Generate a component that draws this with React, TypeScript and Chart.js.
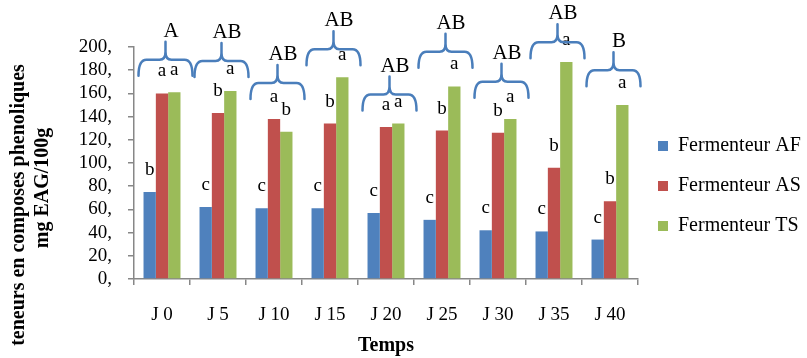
import React, { useEffect, useRef } from 'react';
import { Chart, registerables } from 'chart.js';

Chart.register(...registerables);

const categories = ['J 0', 'J 5', 'J 10', 'J 15', 'J 20', 'J 25', 'J 30', 'J 35', 'J 40'];
const seriesNames = ['Fermenteur AF', 'Fermenteur AS', 'Fermenteur TS'];
const valuesAF = [75, 62, 61, 61, 57, 51, 42, 41, 34];
const valuesAS = [160, 143, 138, 134, 131, 128, 126, 96, 67];
const valuesTS = [161, 162, 127, 174, 134, 166, 138, 187, 150];
const lettersAF = ['b', 'c', 'c', 'c', 'c', 'c', 'c', 'c', 'c'];
const lettersAS = ['a', 'b', 'a', 'b', 'a', 'b', 'b', 'b', 'b'];
const lettersTS = ['a', 'a', 'b', 'a', 'a', 'a', 'a', 'a', 'a'];
const groupLetters = ['A', 'AB', 'AB', 'AB', 'AB', 'AB', 'AB', 'AB', 'B'];
const braceLevels = [189, 188, 169, 198, 159, 196, 170, 204, 180];
const yTitleLines = ['teneurs en composes phenoliques', 'mg EAG/100g'];
const xTitle = 'Temps';
const yMin = 0;
const yMax = 200;
const yStep = 20;

const colors = ['#4F81BD', '#C0504D', '#9BBB59'];
const braceColor = '#4A7EBB';
const axisColor = '#878787';
const serif = "'Liberation Serif', 'Times New Roman', serif";

const annotationPlugin = {
  id: 'annotations',
  afterDatasetsDraw(chart: any) {
    const ctx = chart.ctx;
    const letterSets = [lettersAF, lettersAS, lettersTS];
    ctx.save();
    ctx.fillStyle = '#000';
    ctx.textAlign = 'center';
    ctx.textBaseline = 'alphabetic';
    ctx.font = `19px ${serif}`;
    letterSets.forEach((letters, di) => {
      const meta = chart.getDatasetMeta(di);
      meta.data.forEach((el: any, i: number) => {
        ctx.fillText(letters[i], el.x, el.y - 17);
      });
    });
    const xs = chart.scales.x;
    const ys = chart.scales.y;
    const catW = (xs.right - xs.left) / categories.length;
    categories.forEach((_, i) => {
      const cx = xs.getPixelForValue(i);
      const xc = cx + 3.5;
      const x0 = xc - catW / 2 + 1;
      const x1 = xc + catW / 2 - 1;
      const y = ys.getPixelForValue(braceLevels[i]);
      ctx.strokeStyle = braceColor;
      ctx.lineWidth = 2.5;
      ctx.lineCap = 'round';
      ctx.lineJoin = 'round';
      ctx.beginPath();
      ctx.moveTo(x0, y + 16);
      ctx.quadraticCurveTo(x0, y, x0 + 8, y);
      ctx.lineTo(xc - 6, y);
      ctx.quadraticCurveTo(xc, y, xc, y - 8);
      ctx.lineTo(xc, y - 18);
      ctx.moveTo(x1, y + 16);
      ctx.quadraticCurveTo(x1, y, x1 - 8, y);
      ctx.lineTo(xc + 6, y);
      ctx.quadraticCurveTo(xc, y, xc, y - 8);
      ctx.stroke();
      ctx.font = `21px ${serif}`;
      ctx.fillStyle = '#000';
      ctx.fillText(groupLetters[i], cx + 9, y - 23);
    });
    ctx.restore();
  },
  afterDraw(chart: any) {
    const ctx = chart.ctx;
    ctx.save();
    ctx.fillStyle = '#000';
    ctx.font = `bold 20px ${serif}`;
    ctx.textAlign = 'center';
    ctx.textBaseline = 'middle';
    const pos = [
      [19, 205],
      [43, 188],
    ];
    yTitleLines.forEach((line, i) => {
      ctx.save();
      ctx.translate(pos[i][0], pos[i][1]);
      ctx.rotate(-Math.PI / 2);
      ctx.fillText(line, 0, 0);
      ctx.restore();
    });
    ctx.restore();
  },
};

export default function App() {
  const ref = useRef<HTMLCanvasElement | null>(null);
  useEffect(() => {
    if (!ref.current) return;
    const chart = new Chart(ref.current, {
      type: 'bar',
      data: {
        labels: categories,
        datasets: [valuesAF, valuesAS, valuesTS].map((vals, i) => ({
          label: seriesNames[i],
          data: vals,
          backgroundColor: colors[i],
          borderWidth: 0,
          categoryPercentage: 0.66,
          barPercentage: 1,
        })),
      },
      options: {
        animation: false,
        responsive: false,
        layout: { padding: { top: 14, right: 0, bottom: 0, left: 0 } },
        plugins: {
          title: {
            display: true,
            text: ' ',
            font: { size: 10, lineHeight: 1 },
            padding: { top: 23, bottom: 0 },
          },
          legend: {
            position: 'right',
            align: 'center',
            maxWidth: 169,
            labels: {
              boxWidth: 10,
              boxHeight: 10,
              padding: 20,
              color: '#000',
              font: { size: 20, family: serif },
            },
          },
          tooltip: { enabled: false },
        },
        scales: {
          x: {
            afterFit: (s: any) => {
              s.height = 79;
            },
            grid: {
              display: true,
              drawOnChartArea: false,
              drawTicks: true,
              tickLength: 6,
              color: axisColor,
              lineWidth: 1.5,
            },
            border: { display: true, color: axisColor, width: 1.5 },
            ticks: {
              color: '#000',
              padding: 19,
              autoSkip: false,
              maxRotation: 0,
              font: { size: 19, family: serif },
            },
            title: {
              display: true,
              text: xTitle,
              color: '#000',
              font: { size: 20, family: serif, weight: 'bold' },
              padding: { top: 0, bottom: 0 },
            },
          },
          y: {
            min: yMin,
            max: yMax,
            afterFit: (s: any) => {
              s.width = 134;
            },
            grid: {
              display: true,
              drawOnChartArea: false,
              drawTicks: true,
              tickLength: 6,
              color: axisColor,
              lineWidth: 1.5,
            },
            border: { display: true, color: axisColor, width: 1.5 },
            ticks: {
              stepSize: yStep,
              autoSkip: false,
              color: '#000',
              padding: 16,
              font: { size: 19, family: serif },
              callback: (v: any) => `${v},`,
            },
          },
        },
      },
      plugins: [annotationPlugin],
    });
    return () => chart.destroy();
  }, []);
  return (
    <div style={{ position: 'absolute', left: 0, top: 0, width: 807, height: 358, background: '#fff' }}>
      <canvas ref={ref} width={807} height={358} style={{ display: 'block' }} />
    </div>
  );
}
